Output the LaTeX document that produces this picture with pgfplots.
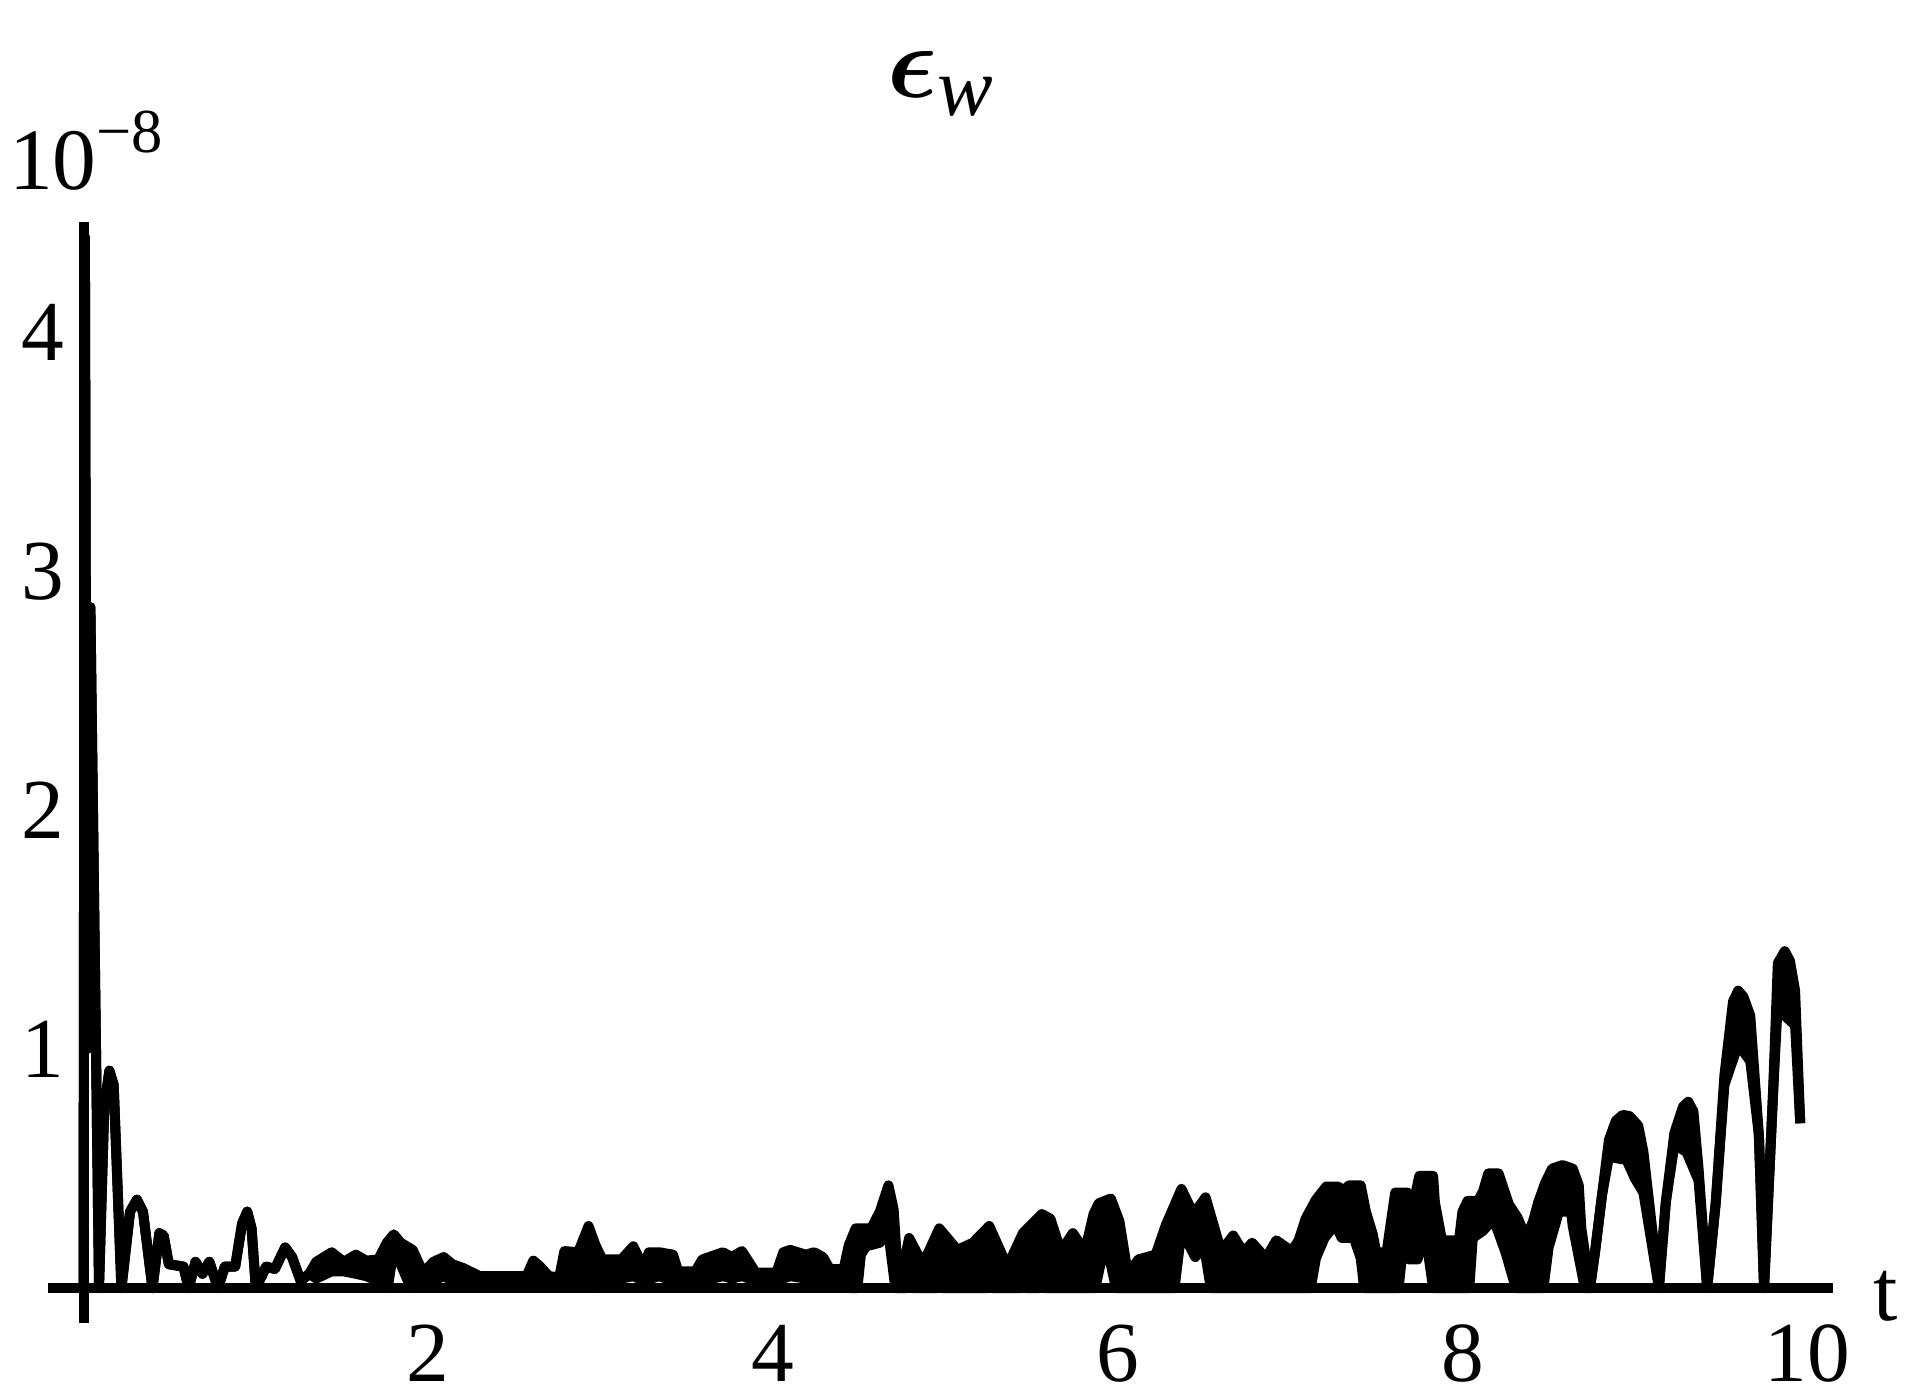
\documentclass[border=0pt]{standalone}
\usepackage{fontspec}
\setmainfont{Liberation Serif}
\usepackage{bm}
\usepackage{pgfplots}
\usepackage{pgfplotstable}
\pgfplotsset{compat=1.18}
\usepgfplotslibrary{fillbetween}

% upper edge of the error curve
\pgfplotstableread{
t v
0.000 0.00
0.008 4.40
0.020 1.00
0.040 2.85
0.090 0.00
0.120 0.75
0.150 0.91
0.175 0.85
0.220 0.00
0.270 0.32
0.310 0.37
0.345 0.32
0.400 0.00
0.440 0.23
0.465 0.22
0.495 0.10
0.580 0.09
0.610 0.00
0.650 0.11
0.690 0.06
0.730 0.11
0.780 0.00
0.820 0.09
0.880 0.09
0.920 0.27
0.950 0.32
0.975 0.25
1.000 0.00
1.060 0.09
1.110 0.08
1.170 0.17
1.210 0.13
1.260 0.03
1.310 0.06
1.350 0.11
1.440 0.15
1.510 0.11
1.580 0.14
1.640 0.115
1.710 0.12
1.760 0.19
1.800 0.225
1.840 0.19
1.910 0.16
1.970 0.065
2.030 0.11
2.090 0.13
2.140 0.10
2.200 0.085
2.300 0.05
2.400 0.05
2.500 0.05
2.570 0.05
2.610 0.115
2.650 0.09
2.700 0.05
2.760 0.045
2.790 0.155
2.870 0.15
2.930 0.26
2.970 0.18
3.010 0.12
3.120 0.12
3.190 0.175
3.250 0.085
3.280 0.15
3.340 0.15
3.420 0.14
3.450 0.07
3.550 0.07
3.590 0.12
3.710 0.15
3.760 0.13
3.820 0.155
3.900 0.065
4.020 0.065
4.060 0.15
4.100 0.16
4.190 0.14
4.240 0.15
4.290 0.13
4.330 0.08
4.410 0.08
4.440 0.18
4.480 0.25
4.570 0.25
4.620 0.32
4.670 0.43
4.700 0.33
4.730 0.00
4.790 0.21
4.870 0.10
4.965 0.25
5.070 0.16
5.160 0.19
5.255 0.26
5.360 0.09
5.450 0.23
5.560 0.31
5.610 0.29
5.670 0.155
5.740 0.23
5.810 0.155
5.860 0.31
5.890 0.355
5.960 0.375
6.010 0.28
6.050 0.10
6.080 0.08
6.120 0.12
6.220 0.14
6.280 0.265
6.370 0.415
6.440 0.31
6.510 0.38
6.600 0.155
6.670 0.22
6.730 0.15
6.780 0.19
6.860 0.125
6.920 0.20
7.010 0.155
7.050 0.20
7.090 0.29
7.150 0.37
7.210 0.425
7.280 0.425
7.310 0.405
7.340 0.43
7.410 0.43
7.440 0.32
7.480 0.225
7.500 0.15
7.560 0.15
7.590 0.30
7.610 0.40
7.680 0.40
7.710 0.335
7.750 0.47
7.830 0.47
7.840 0.36
7.880 0.205
7.900 0.20
7.980 0.20
8.000 0.32
8.030 0.365
8.090 0.365
8.120 0.405
8.150 0.48
8.210 0.48
8.270 0.35
8.320 0.295
8.370 0.21
8.410 0.28
8.440 0.36
8.480 0.44
8.520 0.50
8.580 0.515
8.640 0.50
8.675 0.43
8.690 0.25
8.740 0.00
8.770 0.155
8.810 0.39
8.850 0.62
8.890 0.70
8.930 0.725
8.970 0.72
9.020 0.68
9.050 0.57
9.140 0.00
9.180 0.36
9.230 0.65
9.280 0.76
9.310 0.78
9.340 0.74
9.370 0.50
9.420 0.00
9.470 0.36
9.520 0.89
9.570 1.20
9.600 1.245
9.630 1.22
9.670 1.14
9.720 0.64
9.750 0.00
9.800 0.78
9.830 1.36
9.870 1.41
9.900 1.37
9.930 1.245
9.960 0.69
}\uppertab

% lower edge of the fast ripple
\pgfplotstableread{
t v
0.000 0.00
0.008 4.40
0.020 1.00
0.040 2.85
0.090 0.00
0.120 0.75
0.150 0.91
0.175 0.85
0.220 0.00
0.270 0.32
0.310 0.37
0.345 0.32
0.400 0.00
0.440 0.23
0.465 0.22
0.495 0.10
0.580 0.09
0.610 0.00
0.650 0.11
0.690 0.06
0.730 0.11
0.780 0.00
0.820 0.09
0.880 0.09
0.920 0.27
0.950 0.32
0.975 0.25
1.000 0.00
1.060 0.09
1.110 0.08
1.170 0.17
1.210 0.13
1.260 0.03
1.310 0.06
1.350 0.04
1.440 0.07
1.510 0.07
1.580 0.06
1.640 0.05
1.710 0.03
1.765 0.00
1.800 0.167
1.900 0.00
1.970 0.04
2.030 0.03
2.090 0.05
2.140 0.03
2.200 0.03
2.300 0.02
2.400 0.02
2.500 0.02
2.570 0.02
2.610 0.03
2.700 0.02
2.760 0.03
2.790 0.04
2.870 0.03
2.905 0.00
2.930 0.146
2.955 0.00
3.010 0.03
3.120 0.04
3.190 0.05
3.250 0.03
3.340 0.05
3.420 0.03
3.450 0.03
3.550 0.03
3.590 0.03
3.710 0.05
3.760 0.04
3.820 0.05
3.900 0.03
4.020 0.03
4.100 0.05
4.190 0.04
4.290 0.04
4.330 0.03
4.410 0.04
4.450 0.00
4.490 0.00
4.510 0.14
4.540 0.175
4.620 0.19
4.660 0.285
4.710 0.00
4.770 0.00
4.790 0.08
4.810 0.00
4.950 0.00
4.965 0.10
4.980 0.00
5.240 0.00
5.255 0.12
5.270 0.00
5.440 0.00
5.455 0.07
5.470 0.00
5.540 0.00
5.560 0.13
5.580 0.00
5.870 0.00
5.930 0.20
5.990 0.00
6.330 0.00
6.370 0.24
6.450 0.13
6.500 0.18
6.540 0.00
7.120 0.00
7.150 0.125
7.200 0.21
7.250 0.255
7.270 0.255
7.300 0.21
7.370 0.21
7.410 0.125
7.430 0.00
7.630 0.00
7.660 0.21
7.690 0.12
7.740 0.12
7.780 0.255
7.830 0.00
8.040 0.00
8.060 0.21
8.120 0.24
8.180 0.29
8.250 0.15
8.310 0.00
8.470 0.00
8.500 0.17
8.560 0.32
8.630 0.32
8.640 0.26
8.710 0.00
8.740 0.00
8.770 0.155
8.810 0.39
8.850 0.55
8.920 0.54
8.950 0.54
9.000 0.46
9.050 0.40
9.140 0.00
9.180 0.36
9.230 0.60
9.300 0.57
9.370 0.45
9.420 0.00
9.470 0.36
9.520 0.85
9.600 1.02
9.670 0.95
9.720 0.64
9.750 0.00
9.800 0.78
9.830 1.20
9.870 1.14
9.930 1.10
9.960 0.69
}\lowertab

\begin{document}
\begin{tikzpicture}
\begin{axis}[
  scale only axis,
  width=428.4pt, height=264.24pt,
  axis lines=middle,
  axis line style={-, line width=2.4pt},
  inner axis line style={-},
  xmin=-0.206, xmax=10.15,
  ymin=-0.146, ymax=4.462,
  xtick={2,4,6,8,10},
  ytick={1,2,3,4},
  tick style={draw=none},
  ticklabel style={font=\fontsize{20.5}{24}\selectfont},
  /pgf/number format/assume math mode=true,
  xticklabel style={anchor=north, inner sep=0pt, yshift=-6.5pt},
  yticklabel style={anchor=east, inner sep=0pt, xshift=-2.2pt},
  clip=false,
]
\addplot[name path=U, black, line width=2.4pt, line join=round] table[x=t, y=v] {\uppertab};
\addplot[name path=L, black, line width=2.4pt, line join=round] table[x=t, y=v] {\lowertab};
\addplot[black] fill between[of=U and L];

\node[anchor=base, inner sep=0pt, font=\fontsize{21}{24}\selectfont, xshift=0.6pt, yshift=7.7pt]
  at (axis cs:0,4.462) {10\raisebox{8.9pt}{\fontsize{15}{15}\selectfont −8}};
\node[anchor=west, inner sep=0pt, font=\fontsize{21}{24}\selectfont, xshift=9.4pt, yshift=-2pt]
  at (axis cs:10.15,0) {t};
\node[anchor=base, inner sep=0pt, font=\fontsize{28}{32}\selectfont, yshift=29.8pt]
  at (rel axis cs:0.5,1) {$\bm{\epsilon}$\raisebox{-4.3pt}{\fontsize{20}{20}\selectfont\textit{w}}};
\end{axis}
\path (-11.52pt,-17.52pt) rectangle (446.88pt,317.52pt);
\end{tikzpicture}
\end{document}
